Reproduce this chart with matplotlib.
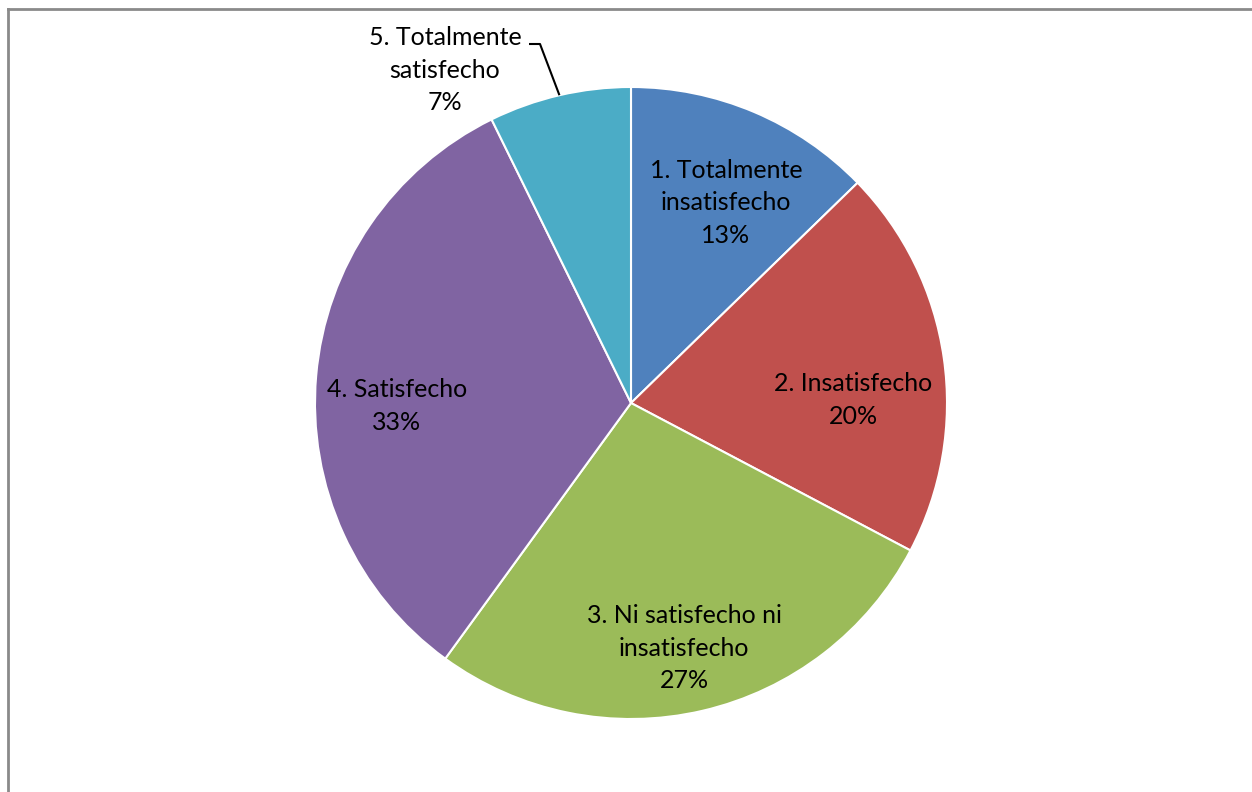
import matplotlib
matplotlib.use("Agg")
import matplotlib.pyplot as plt
from matplotlib.lines import Line2D
import numpy as np

categories = ["1. Totalmente\ninsatisfecho", "2. Insatisfecho", "3. Ni satisfecho ni\ninsatisfecho",
              "4. Satisfecho", "5. Totalmente\nsatisfecho"]
counts = [7, 11, 15, 18, 4]
colors = ["#4F81BD", "#C0504D", "#9BBB59", "#8064A2", "#4BACC6"]

W, H = 1252, 792
fig = plt.figure(figsize=(W / 100, H / 100), dpi=100)
fig.patch.set_facecolor("white")
fig.patch.set_edgecolor("none")
fig.patch.set_linewidth(0)
ax = fig.add_axes([0, 0, 1, 1])

cx, cy, R = 631, H - 403, 316
wedges, _ = ax.pie(counts, colors=colors, startangle=90, counterclock=False,
                   center=(cx, cy), radius=R,
                   wedgeprops=dict(edgecolor="white", linewidth=1.5))
ax.set_xlim(0, W)
ax.set_ylim(0, H)
ax.set_aspect("equal")
ax.set_frame_on(False)
ax.axis("off")

total = sum(counts)
pcts = [f"{round(100 * c / total)}%" for c in counts]

# label positions (pixel coords from top-left)
label_pos = [(726, 203), (853, 400), (684, 648), (397, 406), (445, 70)]
fs = 18
for i, (lab, pct) in enumerate(zip(categories, pcts)):
    x, y = label_pos[i]
    ax.text(x, H - y, f"{lab}\n{pct}", ha="center", va="center", fontsize=fs,
            family="Lato", color="black", linespacing=1.52)

# leader line for slice 5
w = wedges[4]
mid = np.deg2rad((w.theta1 + w.theta2) / 2)
px, py = cx + R * np.cos(mid), cy + R * np.sin(mid)
ax.plot([px, 540, 529], [py, H - 44, H - 44], color="black", lw=1.5, solid_capstyle="butt")

# outer frame (left and top edges only visible)
fx, fy = 7.5 / W, (H - 9) / H
fig.lines.append(Line2D([fx, fx], [-0.01, fy], transform=fig.transFigure, color="#8a8a8a", lw=2,
                        solid_capstyle="projecting"))
fig.lines.append(Line2D([fx, 1.01], [fy, fy], transform=fig.transFigure, color="#8a8a8a", lw=2,
                        solid_capstyle="projecting"))

fig.savefig("out.png", dpi=100, facecolor="white", edgecolor="none")
